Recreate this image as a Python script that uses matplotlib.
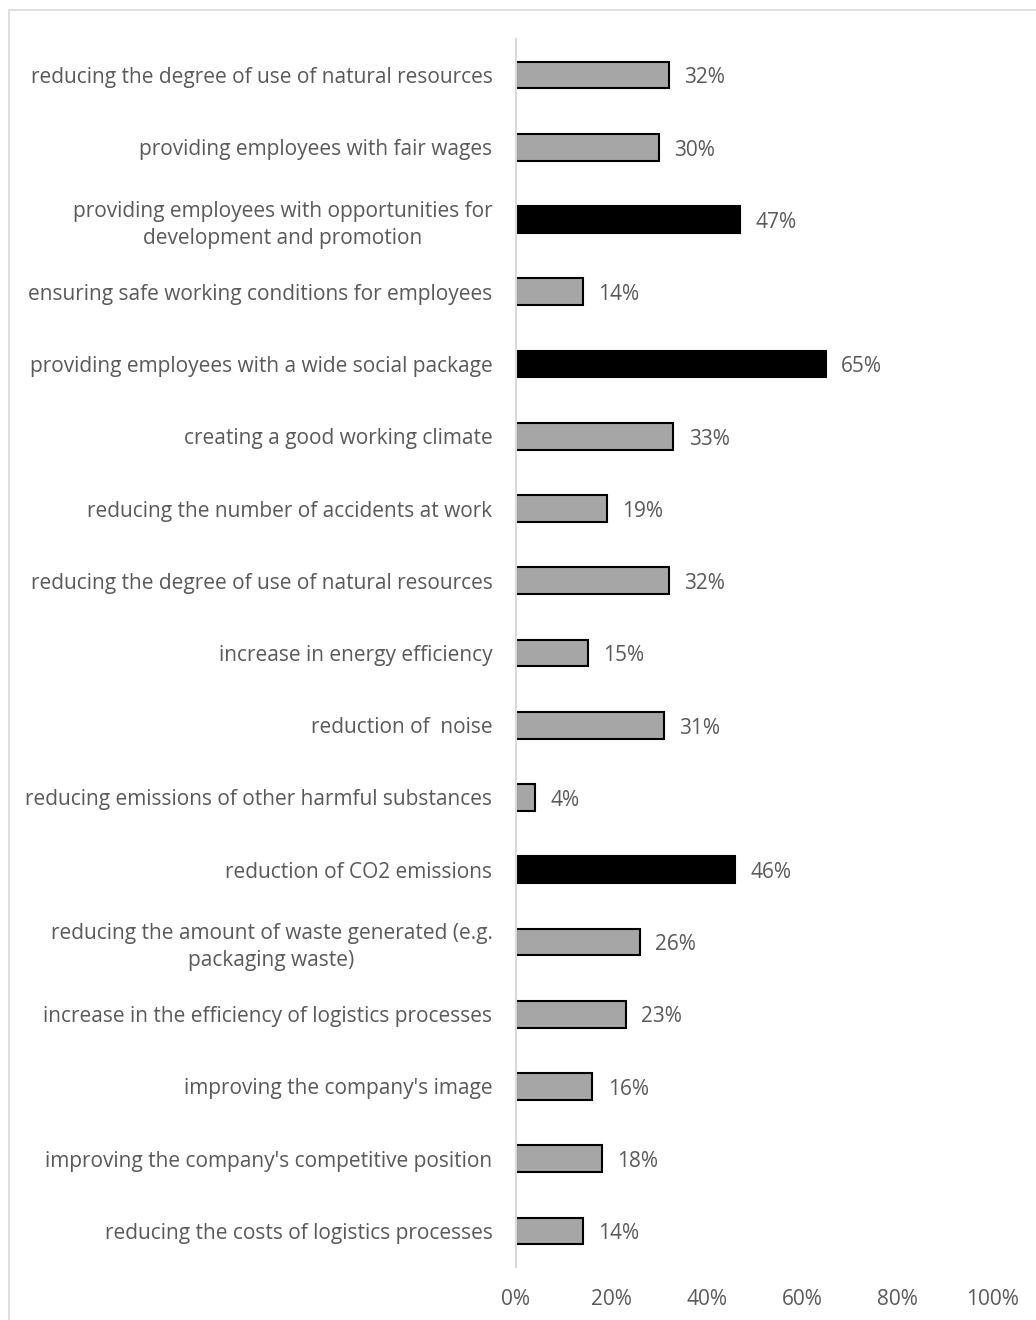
import matplotlib.pyplot as plt
from matplotlib.patches import Rectangle
from matplotlib.ticker import FuncFormatter

categories = [
    "reducing the degree of use of natural resources",
    "providing employees with fair wages",
    "providing employees with opportunities for\ndevelopment and promotion",
    "ensuring safe working conditions for employees",
    "providing employees with a wide social package",
    "creating a good working climate",
    "reducing the number of accidents at work",
    "reducing the degree of use of natural resources",
    "increase in energy efficiency",
    "reduction of  noise",
    "reducing emissions of other harmful substances",
    "reduction of CO2 emissions",
    "reducing the amount of waste generated (e.g.\npackaging waste)",
    "increase in the efficiency of logistics processes",
    "improving the company's image",
    "improving the company's competitive position",
    "reducing the costs of logistics processes",
]
values = [32, 30, 47, 14, 65, 33, 19, 32, 15, 31, 4, 46, 26, 23, 16, 18, 14]
highlight = [False, False, True, False, True, False, False, False, False,
             False, False, True, False, False, False, False, False]
xticks = [0, 20, 40, 60, 80, 100]

plt.rcParams['font.family'] = ['Open Sans', 'DejaVu Sans']
text_color = '#595959'

fig = plt.figure(figsize=(10.36, 13.2), dpi=100)
ax = fig.add_axes([516 / 1036, 53 / 1320, 477 / 1036, 1228 / 1320])

fig.patches.append(Rectangle((9 / 1036, -0.01), 1.1, (1320 - 10) / 1320 + 0.01,
                             transform=fig.transFigure, fill=False,
                             edgecolor='#d9d9d9', linewidth=1.2))

ypos = list(range(len(categories)))
colors = ['black' if h else '#a6a6a6' for h in highlight]
ax.barh(ypos, values, height=0.37, color=colors, edgecolor='black', linewidth=1.5)

for y, v in zip(ypos, values):
    ax.annotate(f"{v}%", xy=(v, y), xytext=(11, -2), textcoords='offset points',
                va='center', ha='left', fontsize=15, color=text_color)

ax.set_ylim(len(categories) - 0.5, -0.5)
ax.set_xlim(0, 100)
ax.set_yticks(ypos)
ax.set_yticklabels(categories, fontsize=15, color=text_color,
                   multialignment='center', linespacing=1.35)
ax.set_xticks(xticks)
ax.xaxis.set_major_formatter(FuncFormatter(lambda x, p: f"{x:.0f}%"))
ax.tick_params(axis='x', length=0, pad=16, labelsize=15, labelcolor=text_color)
ax.tick_params(axis='y', length=0, pad=17)
for s in ['top', 'right', 'bottom']:
    ax.spines[s].set_visible(False)
ax.spines['left'].set_color('#d9d9d9')
ax.spines['left'].set_linewidth(1.5)

fig.savefig("out.png", dpi=100)
